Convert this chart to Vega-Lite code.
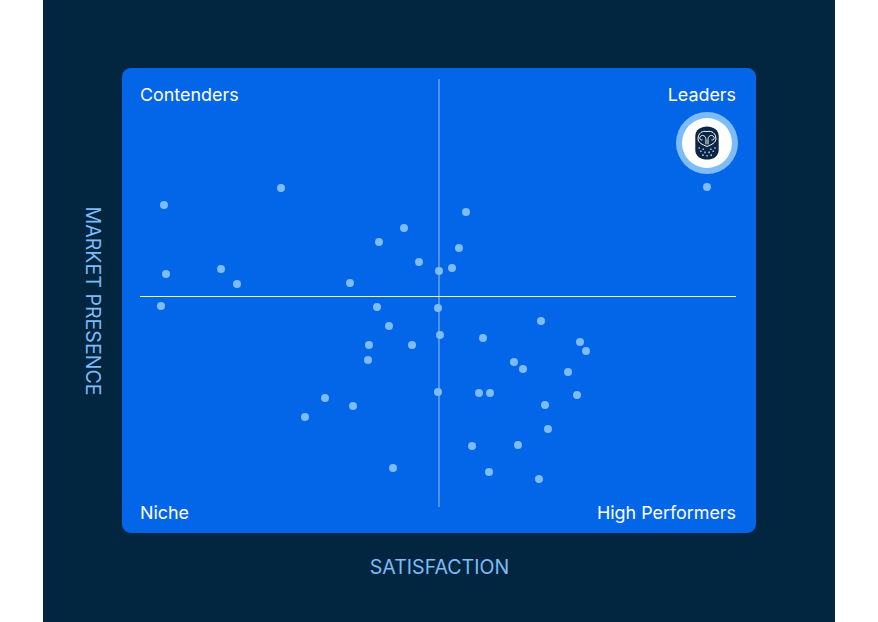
{
  "$schema": "https://vega.github.io/schema/vega-lite/v6.json",
  "width": 634,
  "height": 465,
  "padding": {"left": 122, "top": 68, "right": 122, "bottom": 89},
  "autosize": "none",
  "background": "white",
  "datasets": {
    "vendors": [
      {"satisfaction": 6.62, "presence": 70.54},
      {"satisfaction": 25.08, "presence": 74.19},
      {"satisfaction": 54.26, "presence": 69.03},
      {"satisfaction": 44.48, "presence": 65.59},
      {"satisfaction": 40.54, "presence": 62.58},
      {"satisfaction": 53.15, "presence": 61.29},
      {"satisfaction": 46.85, "presence": 58.28},
      {"satisfaction": 52.05, "presence": 56.99},
      {"satisfaction": 50.0, "presence": 56.34},
      {"satisfaction": 6.94, "presence": 55.7},
      {"satisfaction": 15.62, "presence": 56.77},
      {"satisfaction": 18.14, "presence": 53.55},
      {"satisfaction": 35.96, "presence": 53.76},
      {"satisfaction": 6.15, "presence": 48.82},
      {"satisfaction": 40.22, "presence": 48.6},
      {"satisfaction": 49.84, "presence": 48.39},
      {"satisfaction": 42.11, "presence": 44.52},
      {"satisfaction": 50.16, "presence": 42.58},
      {"satisfaction": 66.09, "presence": 45.59},
      {"satisfaction": 56.94, "presence": 41.94},
      {"satisfaction": 72.24, "presence": 41.08},
      {"satisfaction": 73.19, "presence": 39.14},
      {"satisfaction": 38.96, "presence": 40.43},
      {"satisfaction": 45.74, "presence": 40.43},
      {"satisfaction": 38.8, "presence": 37.2},
      {"satisfaction": 61.83, "presence": 36.77},
      {"satisfaction": 63.25, "presence": 35.27},
      {"satisfaction": 70.35, "presence": 34.62},
      {"satisfaction": 32.02, "presence": 29.03},
      {"satisfaction": 36.44, "presence": 27.31},
      {"satisfaction": 28.86, "presence": 24.95},
      {"satisfaction": 49.84, "presence": 30.32},
      {"satisfaction": 56.31, "presence": 30.11},
      {"satisfaction": 58.04, "presence": 30.11},
      {"satisfaction": 71.77, "presence": 29.68},
      {"satisfaction": 66.72, "presence": 27.53},
      {"satisfaction": 67.19, "presence": 22.37},
      {"satisfaction": 62.46, "presence": 18.92},
      {"satisfaction": 55.21, "presence": 18.71},
      {"satisfaction": 42.74, "presence": 13.98},
      {"satisfaction": 57.89, "presence": 13.12},
      {"satisfaction": 65.77, "presence": 11.61},
      {"satisfaction": 92.27, "presence": 74.41}
    ],
    "logo": [{"satisfaction": 92.27, "presence": 83.87}],
    "quadrants": [
      {"name": "Contenders", "satisfaction": 2.84, "presence": 93.97, "side": "left"},
      {"name": "Niche", "satisfaction": 2.84, "presence": 4.0, "side": "left"},
      {"name": "Leaders", "satisfaction": 96.85, "presence": 93.97, "side": "right"},
      {"name": "High Performers", "satisfaction": 96.85, "presence": 4.0, "side": "right"}
    ]
  },
  "data": {"name": "vendors"},
  "encoding": {
    "x": {
      "field": "satisfaction",
      "type": "quantitative",
      "scale": {"domain": [0, 100]},
      "title": "SATISFACTION",
      "axis": {"zindex": 1, "domain": false, "ticks": false, "labels": false, "grid": false, "titleFont": "Inter", "titleFontSize": 19.6, "titleFontWeight": 400, "titleColor": "#7dbcf8", "titlePadding": 34, "titleBaseline": "middle"}
    },
    "y": {
      "field": "presence",
      "type": "quantitative",
      "scale": {"domain": [0, 100]},
      "title": "MARKET PRESENCE",
      "axis": {"zindex": 1, "domain": false, "ticks": false, "labels": false, "grid": false, "titleFont": "Inter", "titleFontSize": 19.6, "titleFontWeight": 400, "titleColor": "#7dbcf8", "titleAngle": 90, "titlePadding": 31, "titleBaseline": "middle"}
    }
  },
  "layer": [
    {
      "data": {"values": [{"a": -12.46, "b": 112.46, "c": -19.14, "d": 114.62}]},
      "mark": {"type": "rect", "color": "#02263f", "clip": false},
      "encoding": {
        "x": {"field": "a", "type": "quantitative"},
        "x2": {"field": "b"},
        "y": {"field": "c", "type": "quantitative"},
        "y2": {"field": "d"}
      }
    },
    {
      "data": {"values": [{"a": 0, "b": 100, "c": 0, "d": 100}]},
      "mark": {"type": "rect", "color": "#0366e8", "cornerRadius": 9},
      "encoding": {
        "x": {"field": "a", "type": "quantitative"},
        "x2": {"field": "b"},
        "y": {"field": "c", "type": "quantitative"},
        "y2": {"field": "d"}
      }
    },
    {
      "data": {"values": [{"x": 50, "y": 5.59, "y2": 97.63}]},
      "mark": {"type": "rule", "color": "#6aaaf6", "strokeWidth": 1.4},
      "encoding": {
        "x": {"field": "x", "type": "quantitative"},
        "y": {"field": "y", "type": "quantitative"},
        "y2": {"field": "y2"}
      }
    },
    {
      "data": {"values": [{"x": 2.84, "x2": 96.85, "y": 50.86}]},
      "mark": {"type": "rule", "color": "#e8f2fe", "strokeWidth": 1.1},
      "encoding": {
        "x": {"field": "x", "type": "quantitative"},
        "x2": {"field": "x2"},
        "y": {"field": "y", "type": "quantitative"}
      }
    },
    {
      "mark": {"type": "point", "filled": true, "shape": "circle", "size": 64, "color": "#7dbcf8", "opacity": 1}
    },
    {
      "data": {"name": "quadrants"},
      "transform": [{"filter": "datum.side === 'left'"}],
      "mark": {"type": "text", "font": "Inter", "fontSize": 17.9, "color": "white", "baseline": "middle", "align": "left"},
      "encoding": {"text": {"field": "name"}}
    },
    {
      "data": {"name": "quadrants"},
      "transform": [{"filter": "datum.side === 'right'"}],
      "mark": {"type": "text", "font": "Inter", "fontSize": 17.9, "color": "white", "baseline": "middle", "align": "right"},
      "encoding": {"text": {"field": "name"}}
    },
    {
      "data": {"name": "logo"},
      "mark": {"type": "point", "filled": true, "shape": "circle", "size": 3844, "color": "#7dbcf8", "opacity": 1}
    },
    {
      "data": {"name": "logo"},
      "mark": {"type": "point", "filled": true, "shape": "circle", "size": 2500, "color": "white", "opacity": 1}
    },
    {
      "data": {"name": "logo"},
      "mark": {"type": "point", "filled": true, "size": 4733, "color": "#0b2545", "opacity": 1, "shape": "M -0.34 -0.2 C -0.34 -0.38 -0.18 -0.48 0 -0.48 C 0.18 -0.48 0.34 -0.38 0.34 -0.2 L 0.34 0.2 C 0.34 0.38 0.18 0.48 0 0.48 C -0.18 0.48 -0.34 0.38 -0.34 0.2 Z"}
    },
    {
      "data": {"name": "logo"},
      "mark": {"type": "point", "filled": false, "size": 4733, "color": "white", "strokeWidth": 1, "opacity": 1, "shape": "M -0.03 0.04 L -0.03 -0.1 C -0.03 -0.2 -0.12 -0.25 -0.18 -0.2 C -0.24 -0.15 -0.2 -0.07 -0.13 -0.09 M 0.03 0.04 L 0.03 -0.1 C 0.03 -0.2 0.12 -0.25 0.18 -0.2 C 0.24 -0.15 0.2 -0.07 0.13 -0.09 M -0.26 -0.12 C -0.26 -0.28 -0.14 -0.37 0 -0.33 C 0.14 -0.37 0.26 -0.28 0.26 -0.12 C 0.26 -0.02 0.14 0.05 0 0.1 C -0.14 0.05 -0.26 -0.02 -0.26 -0.12"}
    },
    {
      "data": {"name": "logo"},
      "mark": {"type": "point", "filled": true, "size": 4733, "color": "#a9bbd0", "opacity": 1, "shape": "M -0.25 0.12 h 0.045 v 0.045 h -0.045 Z M -0.13 0.16 h 0.045 v 0.045 h -0.045 Z M 0.09 0.16 h 0.045 v 0.045 h -0.045 Z M 0.21 0.12 h 0.045 v 0.045 h -0.045 Z M -0.2 0.22 h 0.045 v 0.045 h -0.045 Z M -0.08 0.25 h 0.045 v 0.045 h -0.045 Z M 0.04 0.25 h 0.045 v 0.045 h -0.045 Z M 0.16 0.22 h 0.045 v 0.045 h -0.045 Z M -0.14 0.33 h 0.045 v 0.045 h -0.045 Z M -0.02 0.35 h 0.045 v 0.045 h -0.045 Z M 0.1 0.33 h 0.045 v 0.045 h -0.045 Z"}
    }
  ],
  "config": {"view": {"stroke": null}}
}
